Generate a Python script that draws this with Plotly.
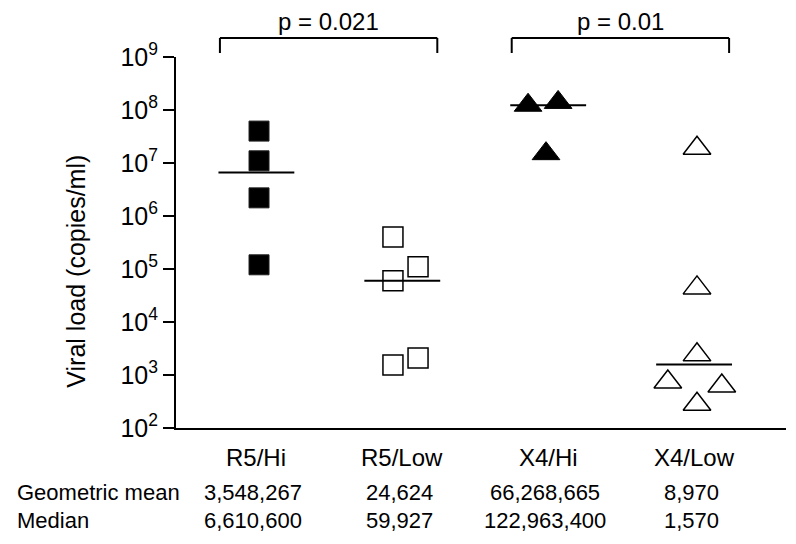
import plotly.graph_objects as go

# ---- data ----
categories = ["R5/Hi", "R5/Low", "X4/Hi", "X4/Low"]
r5_hi = [4.0e7, 1.1e7, 2.2e6, 1.2e5]
r5_low = [4.0e5, 1.1e5, 59927, 2.1e3, 1.55e3]
x4_hi = [1.23e8, 1.39e8, 1.5e7]
x4_low = [1.9e7, 4.4e4, 2.4e3, 740, 620, 280]
geo_mean = [3548267, 24624, 66268665, 8970]
median = [6610600, 59927, 122963400, 1570]
p_values = ["p = 0.021", "p = 0.01"]
y_tick_vals = [1e2, 1e3, 1e4, 1e5, 1e6, 1e7, 1e8, 1e9]
y_tick_text = ["10<sup>%d</sup>" % e for e in range(2, 10)]
row_labels = ["Geometric mean", "Median"]

# ---- layout constants (horizontal spread of points within a group) ----
spread = {
    "R5/Hi": [0.018, 0.018, 0.018, 0.018],
    "R5/Low": [-0.064, 0.108, -0.064, 0.108, -0.064],
    "X4/Hi": [-0.138, 0.068, -0.015],
    "X4/Low": [0.02, 0.02, 0.02, -0.18, 0.19, 0.02],
}
FONT = "Liberation Sans, Arial, sans-serif"
pos = {c: i + 1 for i, c in enumerate(categories)}
values = {"R5/Hi": r5_hi, "R5/Low": r5_low, "X4/Hi": x4_hi, "X4/Low": x4_low}
styles = {
    "R5/Hi": dict(symbol="square", size=20, color="black", line=dict(color="#222", width=1)),
    "R5/Low": dict(symbol="square", size=20, color="white", line=dict(color="black", width=1.5)),
    "X4/Hi": dict(symbol="triangle-up", size=24, color="black", line=dict(color="black", width=1)),
    "X4/Low": dict(symbol="triangle-up", size=24, color="white", line=dict(color="black", width=1.5)),
}

fig = go.Figure()
for c in categories:
    fig.add_trace(go.Scatter(
        x=[pos[c] + o for o in spread[c]], y=values[c], mode="markers",
        marker=styles[c], showlegend=False, cliponaxis=False, hoverinfo="y"))

# median lines
HALF = 0.26
for c, m in zip(categories, median):
    fig.add_trace(go.Scatter(
        x=[pos[c] - HALF, pos[c] + HALF], y=[m, m], mode="lines",
        line=dict(color="black", width=2), showlegend=False, hoverinfo="skip"))

# brackets with p-values
pairs = [("R5/Hi", "R5/Low"), ("X4/Hi", "X4/Low")]
Y_TOP, Y_FOOT, Y_TXT = 1.0512, 1.0108, 1.0945
for (a, b), p in zip(pairs, p_values):
    xa, xb = pos[a] - 0.25, pos[b] + 0.24
    for (x0, y0, x1, y1) in [(xa, Y_FOOT, xa, Y_TOP), (xa, Y_TOP, xb, Y_TOP), (xb, Y_TOP, xb, Y_FOOT)]:
        fig.add_shape(type="line", xref="x", yref="paper", x0=x0, y0=y0, x1=x1, y1=y1,
                      line=dict(color="black", width=2))
    fig.add_annotation(x=(xa + xb) / 2, y=Y_TXT, xref="x", yref="paper", text=p,
                       showarrow=False, font=dict(size=24, color="black", family=FONT),
                       xanchor="center", yanchor="middle")

# category labels and table
for c, g, m in zip(categories, geo_mean, median):
    fig.add_annotation(x=pos[c], y=-0.0782, xref="x", yref="paper", text=c, showarrow=False,
                       font=dict(size=24, color="black", family=FONT), xanchor="center", yanchor="middle")
    fig.add_annotation(x=pos[c] - 0.02, y=-0.1752, xref="x", yref="paper", text=f"{g:,}", showarrow=False,
                       font=dict(size=22, color="black", family=FONT), xanchor="center", yanchor="middle")
    fig.add_annotation(x=pos[c] - 0.02, y=-0.248, xref="x", yref="paper", text=f"{m:,}", showarrow=False,
                       font=dict(size=22, color="black", family=FONT), xanchor="center", yanchor="middle")
for lbl, yy in zip(row_labels, [-0.1752, -0.248]):
    fig.add_annotation(x=-0.2639, y=yy, xref="paper", yref="paper", text=lbl, showarrow=False,
                       font=dict(size=22, color="black", family=FONT), xanchor="left", yanchor="middle")

# y-axis title
fig.add_annotation(x=-0.164, y=0.424, xref="paper", yref="paper", text="Viral load (copies/ml)",
                   textangle=-90, showarrow=False, font=dict(size=25, color="black", family=FONT),
                   xanchor="center", yanchor="middle")

# page body has an 8px margin, so the figure is 8px smaller and margins shifted
fig.update_layout(
    width=788, height=536,
    margin=dict(l=168, r=10, t=49, b=116),
    paper_bgcolor="white", plot_bgcolor="white",
    font=dict(family=FONT, color="black"),
    xaxis=dict(range=[0.449, 4.63], showgrid=False, zeroline=False, showticklabels=False,
               ticks="", showline=True, linecolor="black", linewidth=2),
    yaxis=dict(type="log", range=[2, 9], showgrid=False, zeroline=False,
               tickvals=y_tick_vals, ticktext=y_tick_text, ticks="outside", ticklen=11,
               tickwidth=1.5, tickcolor="black", showline=True, linecolor="black", linewidth=2,
               tickfont=dict(size=25, color="black", family=FONT)),
)

fig.write_html("out.html")
